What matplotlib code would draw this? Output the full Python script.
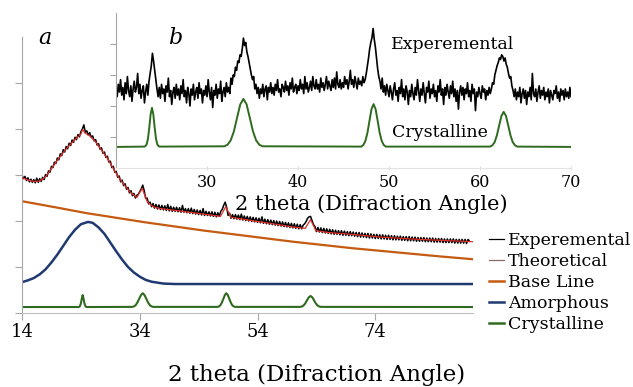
import numpy as np
import matplotlib
matplotlib.use("Agg")
import matplotlib.pyplot as plt
from matplotlib.lines import Line2D

plt.rcParams['font.family'] = ['DejaVu Serif']

# ---- main panel (a) ----
# experimental, x = 14 .. 90 step 0.25 (8 values per row = 2 degrees)
exp_main = [
    3.00, 2.92, 2.97, 2.88, 2.94, 2.85, 2.91, 2.84,
    2.90, 2.83, 2.93, 2.84, 2.92, 2.86, 2.95, 2.90,
    3.01, 2.97, 3.09, 3.06, 3.19, 3.16, 3.28, 3.25,
    3.37, 3.33, 3.46, 3.42, 3.55, 3.50, 3.62, 3.57,
    3.69, 3.64, 3.76, 3.71, 3.82, 3.77, 3.88, 3.83,
    3.94, 4.00, 4.09, 3.93, 3.96, 3.87, 3.92, 3.82,
    3.85, 3.74, 3.77, 3.65, 3.68, 3.56, 3.59, 3.47,
    3.50, 3.38, 3.41, 3.28, 3.30, 3.16, 3.19, 3.06,
    3.08, 2.95, 2.98, 2.85, 2.89, 2.77, 2.81, 2.69,
    2.73, 2.61, 2.66, 2.55, 2.60, 2.50, 2.56, 2.58,
    2.64, 2.70, 2.78, 2.66, 2.49, 2.50, 2.37, 2.41,
    2.31, 2.38, 2.28, 2.36, 2.26, 2.35, 2.25, 2.34,
    2.24, 2.33, 2.23, 2.36, 2.22, 2.32, 2.21, 2.30,
    2.21, 2.30, 2.20, 2.29, 2.19, 2.34, 2.19, 2.27,
    2.18, 2.27, 2.17, 2.28, 2.16, 2.25, 2.15, 2.24,
    2.14, 2.23, 2.13, 2.27, 2.12, 2.21, 2.12, 2.20,
    2.11, 2.20, 2.10, 2.19, 2.09, 2.18, 2.10, 2.21,
    2.25, 2.34, 2.41, 2.30, 2.12, 2.17, 2.06, 2.14,
    2.05, 2.14, 2.04, 2.13, 2.03, 2.15, 2.02, 2.11,
    2.01, 2.10, 2.00, 2.09, 1.99, 2.08, 1.98, 2.07,
    1.97, 2.06, 1.96, 2.09, 1.95, 2.04, 1.94, 2.03,
    1.93, 2.02, 1.92, 2.01, 1.91, 2.00, 1.90, 1.99,
    1.89, 1.98, 1.88, 1.97, 1.87, 1.96, 1.86, 1.95,
    1.85, 1.94, 1.84, 1.93, 1.83, 1.92, 1.83, 1.91,
    1.94, 1.99, 2.06, 2.09, 2.10, 2.01, 1.92, 1.88,
    1.77, 1.86, 1.76, 1.85, 1.75, 1.84, 1.74, 1.83,
    1.73, 1.82, 1.72, 1.81, 1.71, 1.80, 1.71, 1.79,
    1.70, 1.79, 1.69, 1.78, 1.69, 1.77, 1.68, 1.77,
    1.68, 1.76, 1.67, 1.75, 1.66, 1.75, 1.65, 1.74,
    1.65, 1.73, 1.64, 1.73, 1.63, 1.72, 1.63, 1.71,
    1.62, 1.71, 1.62, 1.70, 1.61, 1.70, 1.61, 1.69,
    1.60, 1.69, 1.60, 1.68, 1.59, 1.68, 1.59, 1.67,
    1.59, 1.67, 1.58, 1.66, 1.58, 1.66, 1.57, 1.66,
    1.57, 1.65, 1.57, 1.65, 1.56, 1.64, 1.56, 1.64,
    1.56, 1.64, 1.55, 1.63, 1.55, 1.63, 1.55, 1.63,
    1.54, 1.62, 1.54, 1.62, 1.54, 1.62, 1.53, 1.61,
    1.53, 1.61, 1.53, 1.61, 1.53, 1.61, 1.52, 1.60,
    1.52, 1.60, 1.52, 1.60, 1.52, 1.60, 1.51, 1.60,
    1.56,
]
exp_main_x = 14 + 0.25 * np.arange(len(exp_main))

theo_x = [14, 15, 16, 17, 18, 19, 20, 21, 22, 23, 24, 24.3, 24.7, 25.5, 26.5,
          27.5, 28.5, 29.5, 30.5, 31.5, 32.5, 33.5, 34.4, 35.3, 36.3, 37.5, 40,
          43, 46, 47.7, 48.6, 49.5, 52, 56, 60, 62.1, 63.0, 63.9, 66, 70, 75,
          80, 85, 90.5]
theo_y = [2.94, 2.89, 2.86, 2.87, 2.96, 3.14, 3.32, 3.49, 3.64, 3.77, 3.89,
          3.99, 3.91, 3.85, 3.72, 3.54, 3.36, 3.14, 2.93, 2.76, 2.61, 2.51,
          2.71, 2.41, 2.31, 2.27, 2.23, 2.18, 2.13, 2.10, 2.31, 2.08, 2.03,
          1.95, 1.87, 1.84, 2.03, 1.79, 1.75, 1.71, 1.65, 1.61, 1.58, 1.55]

base_x = [14, 20, 25, 30, 35, 40, 45, 50, 55, 60, 65, 70, 75, 80, 85, 90.5]
base_y = [2.43, 2.29, 2.17, 2.07, 1.97, 1.88, 1.79, 1.71, 1.63, 1.55, 1.48,
          1.41, 1.35, 1.29, 1.23, 1.17]

amor_x = [14, 15, 16, 17, 18, 19, 20, 21, 22, 23, 24, 25.2, 26, 27, 28, 29,
          30, 31, 32, 33, 34, 35, 36, 38, 40, 90.5]
amor_y = [0.67, 0.71, 0.76, 0.84, 0.95, 1.10, 1.27, 1.46, 1.65, 1.81, 1.93,
          1.98, 1.96, 1.86, 1.72, 1.53, 1.34, 1.16, 1.00, 0.88, 0.79, 0.72,
          0.68, 0.64, 0.63, 0.63]

cry_x = [14, 23.6, 23.8, 24.0, 24.15, 24.3, 24.45, 24.6, 24.8, 25.0,
         32.7, 33.0, 33.3, 33.6, 33.9, 34.2, 34.5, 34.8, 35.1, 35.4, 35.7, 36.0, 36.3,
         47.2, 47.45, 47.7, 47.95, 48.2, 48.45, 48.7, 48.95, 49.2, 49.45, 49.7, 49.95, 50.2,
         61.2, 61.5, 61.8, 62.1, 62.4, 62.7, 63.0, 63.3, 63.6, 63.9, 64.2, 64.5, 64.8,
         90.5]
cry_y = [0.13, 0.13, 0.14, 0.21, 0.31, 0.39, 0.31, 0.21, 0.14, 0.13,
         0.133, 0.143, 0.17, 0.23, 0.31, 0.39, 0.43, 0.39, 0.31, 0.23, 0.17, 0.143, 0.133,
         0.133, 0.143, 0.17, 0.23, 0.31, 0.39, 0.43, 0.39, 0.31, 0.23, 0.17, 0.143, 0.133,
         0.133, 0.14, 0.162, 0.208, 0.276, 0.34, 0.37, 0.34, 0.276, 0.208, 0.162, 0.14, 0.133,
         0.13]

main_xticks = [14, 34, 54, 74]

# ---- inset (b) ----
# experimental, x = 20 .. 70 step 0.125 (one degree per row)
exp_ins = [
    2.55, 2.30, 2.70, 2.45, 2.85, 2.35, 2.60, 2.20,
    2.75, 2.40, 2.95, 2.50, 2.30, 2.65, 2.15, 2.55,
    2.80, 2.45, 2.60, 3.05, 2.40, 2.70, 2.25, 2.50,
    2.65, 2.10, 2.45, 2.70, 2.35, 2.80, 3.05, 3.30,
    3.70, 3.45, 3.15, 2.85, 2.55, 2.30, 2.60, 2.25,
    2.70, 2.40, 2.55, 2.15, 2.65, 2.45, 2.90, 2.30,
    2.50, 2.05, 2.45, 2.60, 2.25, 2.70, 2.35, 2.55,
    2.20, 2.65, 2.40, 2.85, 2.30, 2.50, 2.10, 2.60,
    2.40, 2.00, 2.55, 2.35, 2.70, 2.20, 2.45, 2.60,
    2.25, 2.75, 2.40, 2.55, 2.10, 2.50, 2.35, 2.65,
    2.30, 2.85, 2.45, 2.20, 2.60, 1.95, 2.50, 2.35,
    2.70, 2.25, 2.55, 2.40, 2.80, 2.15, 2.45, 2.60,
    2.30, 2.75, 2.45, 2.60, 2.40, 2.90, 2.70, 3.00,
    2.95, 3.25, 3.15, 3.45, 3.40, 3.65, 3.60, 3.85,
    4.19, 3.95, 4.05, 3.75, 3.60, 3.40, 3.20, 3.00,
    2.85, 2.95, 2.55, 2.70, 2.40, 2.60, 2.25, 2.55,
    2.40, 2.70, 2.30, 2.55, 2.65, 2.20, 2.60, 2.45,
    2.75, 2.40, 2.60, 2.35, 2.70, 2.50, 2.85, 2.45,
    2.55, 2.30, 2.70, 2.60, 2.45, 2.80, 2.50, 2.65,
    2.35, 2.75, 2.55, 2.90, 2.45, 2.60, 2.70, 2.40,
    2.65, 2.50, 2.85, 2.55, 2.70, 2.40, 2.95, 2.55,
    2.75, 2.45, 2.60, 2.80, 2.50, 2.95, 2.65, 2.55,
    2.85, 2.55, 2.70, 2.45, 2.90, 2.60, 2.75, 2.50,
    2.70, 2.95, 2.55, 2.80, 2.65, 2.50, 2.85, 2.60,
    2.90, 2.55, 3.10, 2.70, 2.60, 2.85, 2.55, 2.75,
    2.60, 2.95, 2.70, 2.85, 2.55, 2.80, 3.15, 2.70,
    2.85, 2.60, 2.95, 2.75, 2.55, 2.90, 2.70, 2.80,
    2.65, 2.95, 2.75, 2.85, 3.05, 3.30, 3.55, 3.85,
    4.05, 4.20, 4.50, 4.15, 3.90, 3.55, 3.20, 2.95,
    2.80, 2.55, 2.90, 2.45, 2.65, 2.35, 2.70, 2.50,
    2.30, 2.65, 2.45, 2.20, 2.55, 2.75, 2.35, 2.50,
    2.15, 2.60, 2.40, 2.85, 2.30, 2.55, 2.20, 2.65,
    2.45, 2.05, 2.50, 2.30, 2.70, 2.40, 2.20, 2.60,
    2.35, 2.85, 2.50, 2.15, 2.55, 2.35, 2.75, 2.40,
    2.10, 2.60, 2.45, 2.80, 2.25, 2.55, 2.40, 2.70,
    2.30, 2.50, 2.15, 2.65, 2.45, 2.85, 2.35, 2.55,
    2.05, 2.60, 2.35, 2.70, 2.45, 2.25, 2.65, 2.40,
    2.80, 2.30, 2.55, 2.15, 2.50, 1.90, 2.45, 2.65,
    2.35, 2.60, 2.20, 2.55, 2.40, 2.75, 2.30, 2.50,
    2.15, 2.70, 2.40, 2.55, 1.85, 2.45, 2.30, 2.60,
    2.40, 2.25, 2.65, 2.45, 2.55, 2.20, 2.50, 2.35,
    2.60, 2.40, 2.55, 2.75, 2.70, 3.00, 3.15, 3.30,
    3.40, 3.55, 3.50, 3.65, 3.60, 3.45, 3.55, 3.35,
    3.25, 3.05, 2.90, 2.95, 2.65, 2.50, 2.30, 2.55,
    2.20, 2.45, 2.30, 2.60, 2.10, 2.40, 2.55, 2.25,
    2.50, 2.05, 2.45, 2.30, 2.60, 2.20, 3.05, 2.40,
    2.30, 2.55, 2.15, 2.45, 2.65, 2.25, 2.50, 2.35,
    2.60, 2.20, 2.45, 2.30, 2.55, 2.10, 2.50, 2.35,
    2.20, 2.50, 2.40, 2.65, 2.25, 2.45, 2.15, 2.55,
    2.35, 2.50, 2.20, 2.55, 2.30, 2.45, 2.25, 2.60,
    2.30,
]
exp_ins_x = 20 + 0.125 * np.arange(len(exp_ins))

cry_ins_x = [20, 23.15, 23.35, 23.5, 23.65, 23.8, 23.95, 24.1, 24.25, 24.4, 24.55, 24.75,
             31.9, 32.25, 32.6, 32.95, 33.3, 33.65, 34.0, 34.35, 34.7, 35.05, 35.4, 35.75, 36.1,
             46.95, 47.175, 47.4, 47.625, 47.85, 48.075, 48.3, 48.525, 48.75, 48.975, 49.2, 49.425, 49.65,
             61.1, 61.35, 61.6, 61.85, 62.1, 62.35, 62.6, 62.85, 63.1, 63.35, 63.6, 63.85, 64.1,
             70]
cry_ins_y = [0.68, 0.69, 0.75, 0.93, 1.29, 1.73, 1.94, 1.73, 1.29, 0.93, 0.75, 0.69,
             0.70, 0.75, 0.89, 1.18, 1.62, 2.05, 2.23, 2.05, 1.62, 1.18, 0.89, 0.75, 0.70,
             0.69, 0.74, 0.87, 1.13, 1.52, 1.90, 2.06, 1.90, 1.52, 1.13, 0.87, 0.74, 0.69,
             0.69, 0.73, 0.83, 1.05, 1.37, 1.68, 1.81, 1.68, 1.37, 1.05, 0.83, 0.73, 0.69,
             0.68]

ins_xticks = [30, 40, 50, 60, 70]

C_THEO = '#e0302a'
C_BASE = '#c55a11'
C_AMOR = '#1f3a70'
C_CRY = '#2e6b1e'

fig = plt.figure(figsize=(6.33, 3.87), dpi=100)
ax = fig.add_axes([0.0348, 0.1912, 0.7125, 0.7132])

ax.plot(exp_main_x, exp_main, color='black', lw=1.1)
ax.plot(theo_x, theo_y, color=C_THEO, lw=0.9, zorder=3)
ax.plot(base_x, base_y, color=C_BASE, lw=1.6)
ax.plot(amor_x, amor_y, color=C_AMOR, lw=1.8)
ax.plot(cry_x, cry_y, color=C_CRY, lw=1.5)

ax.set_xlim(14, 90.6)
ax.set_ylim(0, 6)
ax.set_xticks(main_xticks)
ax.set_yticks([0, 1, 2, 3, 4, 5])
ax.set_yticklabels([])
for s in ['top', 'right']:
    ax.spines[s].set_visible(False)
ax.spines['left'].set_color('#a6a6a6')
ax.spines['bottom'].set_color('#bfbfbf')
ax.tick_params(axis='both', colors='#a6a6a6', length=5, labelcolor='black',
               labelsize=13, pad=2)
ax.set_xlabel('2 theta (Difraction Angle)', fontsize=16.5)
ax.xaxis.set_label_coords(0.652, -0.185)
ax.xaxis.label.set_va('top')
ax.text(17.9, 5.98, 'a', fontsize=16, style='italic', ha='center', va='center')

handles = [Line2D([], [], color='black', lw=0.9),
           Line2D([], [], color='#8a6a6a', lw=0.9),
           Line2D([], [], color=C_BASE, lw=1.8),
           Line2D([], [], color=C_AMOR, lw=1.8),
           Line2D([], [], color=C_CRY, lw=1.8)]
labels = ['Experemental', 'Theoretical', 'Base Line', 'Amorphous', 'Crystalline']
ax.legend(handles, labels, loc='upper left', bbox_to_anchor=(1.035, 0.295),
          frameon=False, fontsize=12.5, handlelength=0.9, handletextpad=0.2,
          labelspacing=0.24, borderpad=0, borderaxespad=0)

# inset
axi = fig.add_axes([0.1833, 0.5659, 0.7188, 0.4005])
axi.patch.set_alpha(0)
axi.plot(exp_ins_x, exp_ins, color='black', lw=1.2)
axi.plot(cry_ins_x, cry_ins_y, color=C_CRY, lw=1.4)
axi.set_xlim(20, 70)
axi.set_ylim(0, 5)
axi.set_xticks(ins_xticks)
axi.set_yticks([1, 2, 3, 4])
axi.set_yticklabels([])
for s in ['top', 'right']:
    axi.spines[s].set_visible(False)
axi.spines['left'].set_color('#a6a6a6')
axi.spines['bottom'].set_color('#e3e3e3')
axi.tick_params(axis='y', colors='#a6a6a6', length=4)
axi.tick_params(axis='x', colors='#dddddd', length=3, direction='inout',
                labelcolor='black', labelsize=11.5, pad=3)
axi.set_xlabel('2 theta (Difraction Angle)', fontsize=15)
axi.xaxis.set_label_coords(0.56, -0.17)
axi.xaxis.label.set_va('top')
axi.text(26.5, 4.2, 'b', fontsize=16, style='italic', ha='center', va='center')
axi.text(57.0, 4.0, 'Experemental', fontsize=12.5, ha='center', va='center')
axi.text(55.6, 1.16, 'Crystalline', fontsize=12.5, ha='center', va='center')

fig.savefig('out.png', dpi=100)
